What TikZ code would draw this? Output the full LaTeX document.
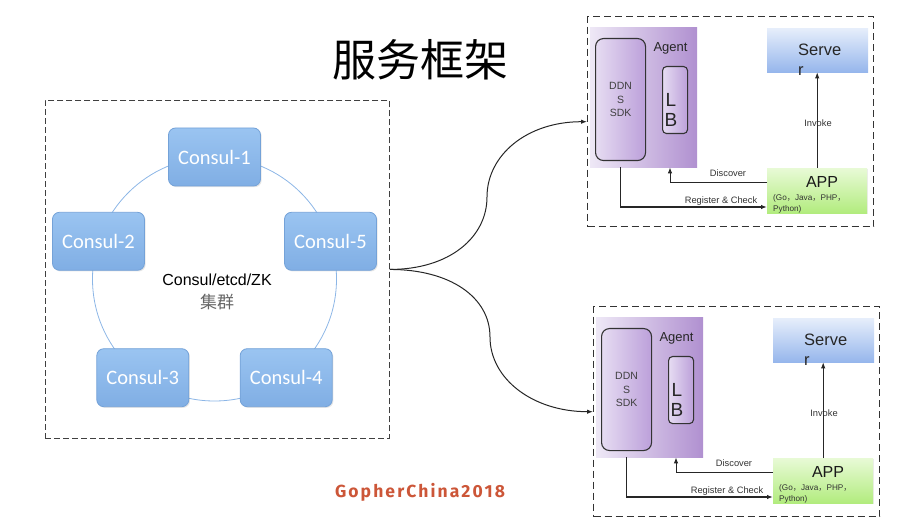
\documentclass[tikz,border=0pt]{standalone}
\usepackage{fontspec}
\setmainfont{Liberation Sans}
\newfontfamily\cjk{Noto Sans CJK SC}
\newfontfamily\calibri{Carlito}
\newfontfamily\gopher{Fira Sans}[LetterSpace=12]
\usetikzlibrary{calc}
\usetikzlibrary{positioning}
\usetikzlibrary{arrows.meta}
\usetikzlibrary{shadows}
\newcommand\fsz[2]{\fontsize{#1}{#2}\selectfont}

\definecolor{consulTop}{RGB}{154,196,241}
\definecolor{consulBot}{RGB}{128,174,228}
\definecolor{consulLine}{RGB}{116,162,216}
\definecolor{ringBlue}{RGB}{140,182,230}
\definecolor{agentLeft}{RGB}{238,232,246}
\definecolor{agentRight}{RGB}{176,144,208}
\definecolor{sdkLeft}{RGB}{230,220,242}
\definecolor{sdkRight}{RGB}{188,160,218}
\definecolor{serverTop}{RGB}{230,238,251}
\definecolor{serverBot}{RGB}{150,182,236}
\definecolor{appTop}{RGB}{232,250,214}
\definecolor{appBot}{RGB}{178,236,126}
\definecolor{gopherRed}{RGB}{204,86,56}

\tikzset{
  frame/.style={draw=black!75, dash pattern=on 6pt off 3pt, line width=0.9pt, anchor=north west, minimum width=344, minimum height=338},
  panel/.style={draw=black!80, dash pattern=on 7pt off 4pt, line width=1.4pt, anchor=north west, minimum width=286, minimum height=210},
  consul/.style={draw=consulLine, line width=0.8pt, rounded corners=7pt, top color=consulTop, bottom color=consulBot, minimum width=92, minimum height=58, text=white, font=\calibri\fsz{20.5}{24}, drop shadow={opacity=0.2, shadow xshift=1.2pt, shadow yshift=-1.2pt}},
  agent/.style={anchor=north west, left color=agentLeft, right color=agentRight, minimum width=107, minimum height=140},
  sdk/.style={anchor=north west, draw=black!80, line width=1.1pt, left color=sdkLeft, right color=sdkRight, rounded corners=8pt, align=center, text=black!75, font=\fsz{10.5}{13.5}},
  server/.style={anchor=north west, top color=serverTop, bottom color=serverBot, minimum width=101, minimum height=44},
  app/.style={anchor=north west, top color=appTop, bottom color=appBot, minimum width=100, minimum height=45, drop shadow={opacity=0.15, shadow xshift=1pt, shadow yshift=-1pt}},
  small/.style={text=black!80, font=\fsz{9.3}{11}},
  flow/.style={-{Latex[length=6pt,width=4.5pt]}, line width=0.9pt, black!85},
  link/.style={-{Latex[length=6pt,width=4.5pt]}, line width=1pt, black!85}
}

\begin{document}
\begin{tikzpicture}[x=1pt, y=-1pt]
  \useasboundingbox (0,0) rectangle (902,526);

  % title
  \node[font=\cjk\fsz{44}{50}] (title) at (420,60) {服务框架};

  % cluster frame
  \node[frame] (cluster) at (45,100) {};
  \coordinate (ring) at (214.5,279);
  \draw[ringBlue, line width=0.8pt] (ring) circle[radius=122];

  % consul nodes on the ring
  \foreach \i/\a in {1/90, 2/162, 3/234, 4/306, 5/18} {
    \node[consul] (consul\i) at ($(ring)+({122*cos(\a)},{-122*sin(\a)})$) {Consul-\i};
  }
  \node[font=\fsz{16}{23}, align=center] (clusterlbl) at (217,291.5) {Consul/etcd/ZK\\{\cjk\fsz{17}{23}\color{black!60}集群}};

  % the two service panels
  \foreach \p/\dx/\dy in {t/587/16, b/593/306} {
    \begin{scope}[shift={(\dx,\dy)}]
      \node[panel] (panel\p) at (0,0) {};

      % agent with sdk and lb
      \node[agent] (agent\p) at (3,11) {};
      \node[sdk, minimum width=50, minimum height=122] (ddns\p) at (8,22) {DDN\\S\\SDK};
      \node[sdk, rounded corners=4pt, minimum width=25, minimum height=67] (lb\p) at (75,50) {};
      \node[font=\fsz{19}{20}, align=center, text=black!85] (lbtxt\p) at (84,93.5) {L\\B};
      \node[font=\fsz{13}{15}, text=black!85] (agentlbl\p) at (83.5,32) {Agent};

      % server and app
      \node[server] (server\p) at (180,12) {};
      \node[font=\fsz{16.5}{20}, align=left, anchor=north west, inner sep=0pt, text=black!85] (srvtxt\p) at (211,28) {Serve\\r};
      \node[app] (app\p) at (180,152) {};
      \node[font=\fsz{16}{18}, text=black!90] (apptxt\p) at (235,166) {APP};
      \node[font=\fsz{8.2}{11}, align=left, anchor=west, inner sep=0pt, text=black!80] (lang\p) at (186,187.5) {(Go{\cjk ，}Java{\cjk ，}PHP{\cjk ，}\\Python)};

      % calls
      \draw[flow] (app\p.north) -- (app\p.north |- server\p.south);
      \node[small] (invoke\p) at (231,107) {Invoke};
      \draw[flow] ($(app\p.north west)+(0,14)$) -| ($(agent\p.south west)+(80,0)$);
      \node[small] (discover\p) at (141,157) {Discover};
      \draw[flow, line width=1.2pt] (ddns\p.south |- agent\p.south) |- ($(app\p.north west)+(0,39)$);
      \node[small] (register\p) at (134,185) {Register \& Check};
    \end{scope}
  }

  % links from cluster to panels
  \coordinate (kt) at (487,197);
  \coordinate (kb) at (490,337);
  \draw[link] (cluster.east) .. controls +(60,0) and +(0,40) .. (kt) .. controls +(0,-42) and +(-60,0) .. (panelt.west);
  \draw[link] (cluster.east) .. controls +(60,0) and +(0,-40) .. (kb) .. controls +(0,42) and +(-60,0) .. (panelb.west);

  % footer
  \node[font=\gopher\bfseries\fsz{17.5}{20}, text=gopherRed] (brand) at (420,492) {GopherChina2018};
\end{tikzpicture}
\end{document}
